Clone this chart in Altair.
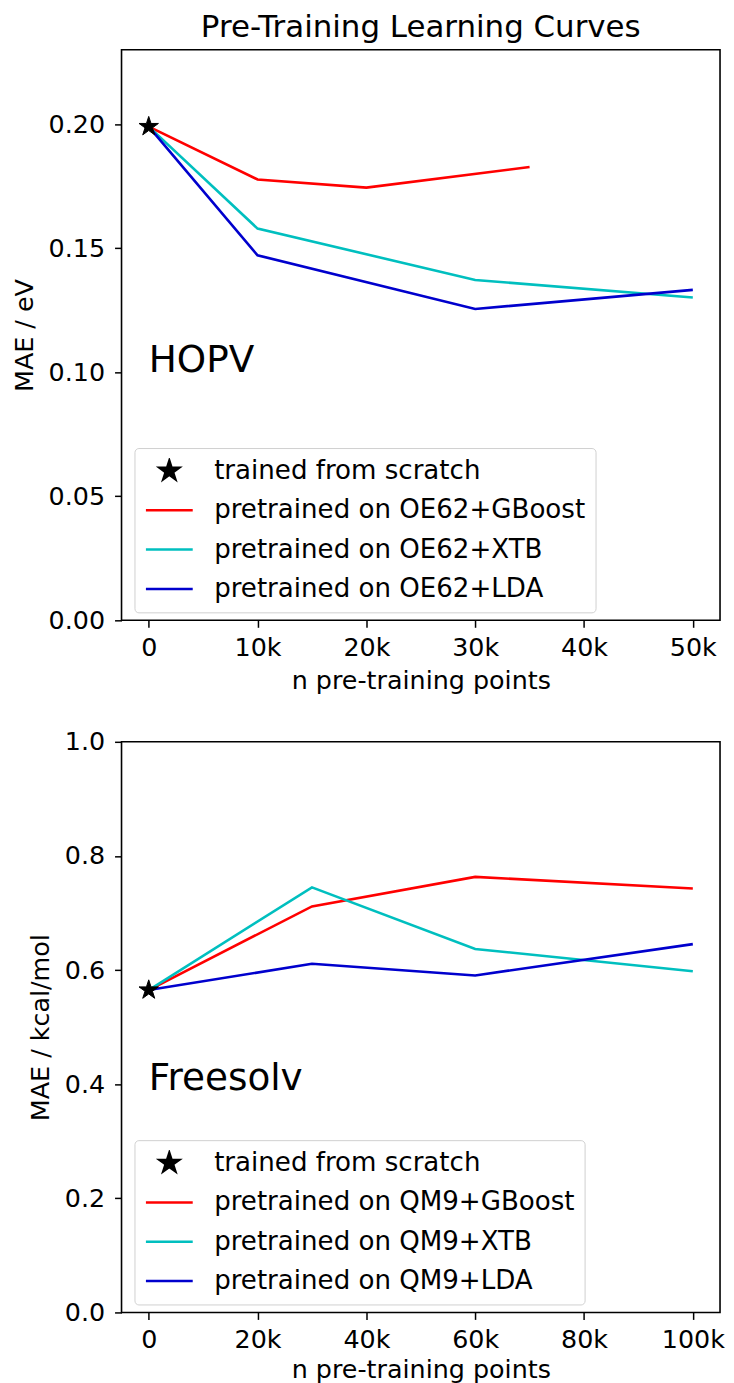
import altair as alt
import pandas as pd

# ---------------- data ----------------
hopv_names = ["trained from scratch", "pretrained on OE62+GBoost",
              "pretrained on OE62+XTB", "pretrained on OE62+LDA"]
hopv_scratch_x = [0]
hopv_scratch_y = [0.199]
hopv_gboost_x = [0, 10000, 20000, 35000]
hopv_gboost_y = [0.199, 0.1777, 0.1744, 0.1827]
hopv_xtb_x = [0, 10000, 30000, 50000]
hopv_xtb_y = [0.199, 0.1579, 0.1372, 0.1301]
hopv_lda_x = [0, 10000, 30000, 50000]
hopv_lda_y = [0.199, 0.1471, 0.1255, 0.1332]

free_names = ["trained from scratch", "pretrained on QM9+GBoost",
              "pretrained on QM9+XTB", "pretrained on QM9+LDA"]
free_scratch_x = [0]
free_scratch_y = [0.565]
free_x = [0, 30000, 60000, 100000]
free_gboost_y = [0.565, 0.7116, 0.7633, 0.7428]
free_xtb_y = [0.565, 0.745, 0.637, 0.598]
free_lda_y = [0.565, 0.611, 0.5906, 0.6454]

hopv_xticks = [0, 10000, 20000, 30000, 40000, 50000]
hopv_yticks = [0.0, 0.05, 0.10, 0.15, 0.20]
free_xticks = [0, 20000, 40000, 60000, 80000, 100000]
free_yticks = [0.0, 0.2, 0.4, 0.6, 0.8, 1.0]

colors = ["black", "#ff0000", "#00bfbf", "#0000cd"]
STAR = "M0,-1L0.2245,-0.309L0.9511,-0.309L0.3633,0.118L0.5878,0.809L0,0.382L-0.5878,0.809L-0.3633,0.118L-0.9511,-0.309L-0.2245,-0.309Z"
FONT = "DejaVu Sans"
FS = 25.5
W, H = 601, 573


def lines_df(names, series):
    rows = []
    for name, (xs, ys) in zip(names[1:], series):
        for i, (x, y) in enumerate(zip(xs, ys)):
            rows.append({"x": x, "y": y, "series": name, "i": i})
    return pd.DataFrame(rows)


def panel(names, series, star_x, star_y, xdom, xticks, ydom, yticks, yfmt,
          ytitle, label, label_y, xtitle_pad, title=None):
    ldf = lines_df(names, series)
    sdf = pd.DataFrame({"x": star_x, "y": star_y, "series": [names[0]]})
    tdf = pd.DataFrame({"x": [0], "y": [label_y], "t": [label]})

    xenc = alt.X("x:Q", scale=alt.Scale(domain=xdom, nice=False, zero=False),
                 axis=alt.Axis(values=xticks, title="n pre-training points",
                               titlePadding=xtitle_pad,
                               labelExpr="datum.value == 0 ? '0' : format(datum.value/1000, 'd') + 'k'"))
    yenc = alt.Y("y:Q", scale=alt.Scale(domain=ydom, nice=False, zero=False),
                 axis=alt.Axis(values=yticks, format=yfmt, title=ytitle))

    leg = alt.Legend(title=None, orient="none", legendX=13, legendY=400,
                     padding=10, strokeColor="#d0d0d0", fillColor="white",
                     cornerRadius=4, labelFontSize=26.2, labelFont=FONT,
                     labelColor="black", rowPadding=12.5, clipHeight=26,
                     labelOffset=20, symbolStrokeWidth=2.5, labelLimit=700)

    # line layer: its own colour scale (legend hidden)
    lines = alt.Chart(ldf).mark_line(strokeWidth=2.6).encode(
        x=xenc, y=yenc,
        color=alt.Color("series:N", scale=alt.Scale(domain=names[1:], range=colors[1:]), legend=None),
        order="i:Q",
    )
    # star layer carries the combined legend for all four entries
    star = alt.Chart(sdf).mark_point(filled=True, opacity=1, strokeWidth=1).encode(
        x=xenc, y=yenc,
        fill=alt.Fill("series:N", scale=alt.Scale(domain=names, range=colors), legend=leg),
        stroke=alt.Stroke("series:N", scale=alt.Scale(domain=names, range=colors), legend=leg),
        shape=alt.Shape("series:N", scale=alt.Scale(domain=names, range=[STAR, "stroke", "stroke", "stroke"]), legend=leg),
        size=alt.Size("series:N", scale=alt.Scale(type="ordinal", domain=names, range=[420, 2209, 2209, 2209]), legend=leg),
    )
    text = alt.Chart(tdf).mark_text(align="left", baseline="alphabetic",
                                    fontSize=37.5, font=FONT, color="black").encode(
        x="x:Q", y="y:Q", text="t:N")
    ch = alt.layer(lines, star, text).properties(width=W, height=H)
    if title:
        ch = ch.properties(title=alt.TitleParams(title, fontSize=31, font=FONT,
                                                 fontWeight="normal", offset=5.5,
                                                 anchor="middle", frame="group",
                                                 color="black"))
    return ch


top = panel(hopv_names,
            [(hopv_gboost_x, hopv_gboost_y), (hopv_xtb_x, hopv_xtb_y), (hopv_lda_x, hopv_lda_y)],
            hopv_scratch_x, hopv_scratch_y,
            [-2500, 52500], hopv_xticks, [0, 0.23], hopv_yticks, ".2f",
            "MAE / eV", "HOPV", 0.10, 8, title="Pre-Training Learning Curves")
bottom = panel(free_names,
               [(free_x, free_gboost_y), (free_x, free_xtb_y), (free_x, free_lda_y)],
               free_scratch_x, free_scratch_y,
               [-5000, 105000], free_xticks, [0, 1.0], free_yticks, ".1f",
               "MAE / kcal/mol", "Freesolv", 0.39, 5)

chart = alt.vconcat(top, bottom, spacing=34).resolve_scale(
    color="independent", fill="independent", stroke="independent",
    shape="independent", size="independent", x="independent", y="independent"
).properties(padding={"left": 3, "top": 0, "right": 0, "bottom": 0}).configure_view(
    stroke="black", strokeWidth=1.6
).configure_axis(
    domain=False, grid=False, tickColor="black", tickSize=7, tickWidth=1.5,
    labelFontSize=FS, titleFontSize=FS, labelFont=FONT, titleFont=FONT,
    labelColor="black", titleColor="black", titleFontWeight="normal",
    labelPadding=10, titlePadding=11
).configure_axisX(labelPadding=8)

chart.save("out.html", embed_options={"renderer": "svg", "actions": False})
